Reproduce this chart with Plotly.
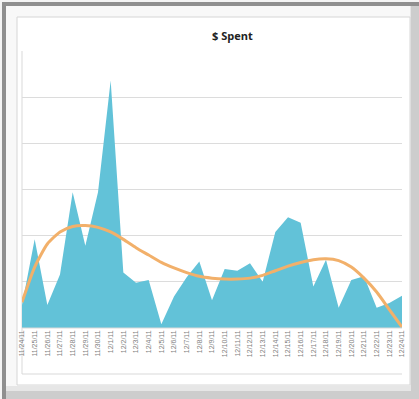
import plotly.graph_objects as go

dates = ["11/24/11", "11/25/11", "11/26/11", "11/27/11", "11/28/11", "11/29/11", "11/30/11",
         "12/1/11", "12/2/11", "12/3/11", "12/4/11", "12/5/11", "12/6/11", "12/7/11", "12/8/11",
         "12/9/11", "12/10/11", "12/11/11", "12/12/11", "12/13/11", "12/14/11", "12/15/11",
         "12/16/11", "12/17/11", "12/18/11", "12/19/11", "12/20/11", "12/21/11", "12/22/11",
         "12/23/11", "12/24/11"]
spent = [25, 96, 25, 58, 147, 89, 147, 268, 60, 49, 52, 4, 34, 55, 72, 30, 64, 62, 70, 50,
         104, 120, 114, 45, 74, 22, 52, 56, 22, 27, 35]
trend = [28, 66, 91, 104, 110, 111, 109, 104, 96, 87, 79, 71, 65, 60, 56, 54, 53, 53, 54, 57,
         62, 67, 71, 74, 75, 73, 66, 54, 39, 20, 1]

W, H = 419, 399
L, R, T, B = 22, 402, 51, 328

def px(x):
    return (x - L) / (R - L)

def py(y):
    return (B - y) / (B - T)

xs = list(range(len(dates)))

fig = go.Figure()
fig.add_trace(go.Scatter(x=xs, y=spent, mode="lines", fill="tozeroy",
                         line=dict(color="#62C2D8", width=0), fillcolor="#62C2D8",
                         hoverinfo="skip", showlegend=False))
fig.add_trace(go.Scatter(x=xs, y=trend, mode="lines",
                         line=dict(color="#F2B06A", width=3, shape="spline", smoothing=0.6),
                         hoverinfo="skip", showlegend=False))

shapes = []
def rect(x0, y0, x1, y1, fill, line=None, lw=0):
    shapes.append(dict(type="rect", xref="paper", yref="paper", layer="below",
                       x0=px(x0), x1=px(x1), y0=py(y1), y1=py(y0),
                       fillcolor=fill, line=dict(color=line or fill, width=lw)))

def seg(x0, y0, x1, y1, color, lw=1, layer="below"):
    shapes.append(dict(type="line", xref="paper", yref="paper", layer=layer,
                       x0=px(x0), x1=px(x1), y0=py(y0), y1=py(y1),
                       line=dict(color=color, width=lw)))

rect(2, 2, 419, 399, "#8f8f8f")
rect(6, 6, 419, 399, "#cdcdcd")
rect(6, 6, 411, 391, "#e6e6e6")
rect(6, 6, 410, 386, "#f8f8f8")
rect(17, 17, 410, 385, "#ffffff", "#d6d6d6", 1)
seg(22, 51, 22, 374, "#d9d9d9")
seg(22, 374, 402, 374, "#d9d9d9")
seg(22, 328, 402, 328, "#d9d9d9", 1, "above")

fig.update_layout(
    width=W, height=H,
    margin=dict(l=L, r=W - R, t=T, b=H - B, autoexpand=False),
    paper_bgcolor="#f4f4f4",
    plot_bgcolor="rgba(0,0,0,0)",
    shapes=shapes,
    xaxis=dict(range=[0, len(dates) - 1], tickmode="array", tickvals=xs, ticktext=dates,
               tickangle=-90, tickfont=dict(size=7, color="#808080", family="Liberation Sans"),
               showgrid=False, zeroline=False, showline=False, ticks="", automargin=False),
    yaxis=dict(range=[0, 300], dtick=50, showgrid=True, gridcolor="#dcdcdc", gridwidth=1,
               showticklabels=False, zeroline=False, showline=False, ticks="", automargin=False),
    annotations=[dict(text="<b>$ Spent</b>", xref="paper", yref="paper",
                      x=px(232), y=py(35), xanchor="center", yanchor="middle", showarrow=False,
                      font=dict(size=11, color="#222222", family="Open Sans"))],
)

fig.write_html("out.html")
